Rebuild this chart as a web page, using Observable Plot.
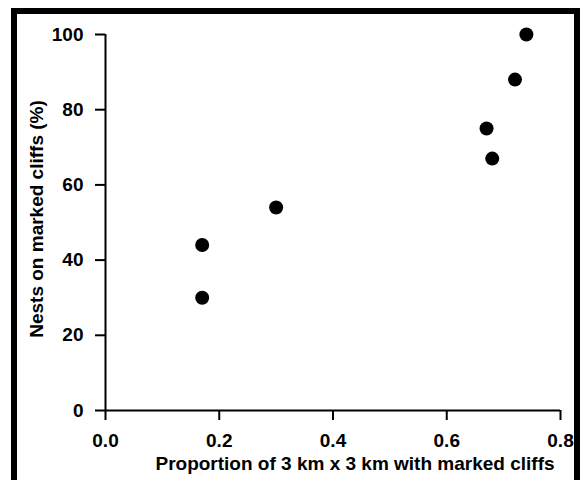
<!DOCTYPE html>
<html><head><meta charset="utf-8">
<script src="https://cdn.jsdelivr.net/npm/d3@7"></script>
<script src="https://cdn.jsdelivr.net/npm/@observablehq/plot@0.6"></script>
<style>
body{margin:0;background:#fff;}
#wrap{position:relative;width:584px;height:480px;overflow:hidden;}
#wrap svg{position:absolute;left:0;top:0;}
#border{position:absolute;left:11px;top:8px;width:557px;height:500px;border:6px solid #000;}
</style></head><body>
<div id="wrap"></div>
<script>
const proportion = [0.17, 0.17, 0.30, 0.67, 0.68, 0.72, 0.74];
const nests = [44, 30, 54, 75, 67, 88, 100];
const xTicks = [0, 0.2, 0.4, 0.6, 0.8];
const yTicks = [0, 20, 40, 60, 80, 100];
const xLabel = "Proportion of 3 km x 3 km with marked cliffs";
const yLabel = "Nests on marked cliffs (%)";
const data = proportion.map((p, i) => ({p, n: nests[i]}));
const chart = Plot.plot({
  width: 584, height: 480,
  marginLeft: 105, marginRight: 24, marginTop: 34, marginBottom: 70,
  style: {fontFamily: "'Liberation Sans', Arial, sans-serif", fontSize: "19px", fontWeight: "bold", background: "transparent", color: "#000"},
  x: {domain: [0, 0.8]},
  y: {domain: [0, 100]},
  marks: [
    Plot.axisX({ticks: xTicks, tickFormat: d => d.toFixed(1), tickSize: 10, tickPadding: 13, strokeWidth: 2, label: null}),
    Plot.axisY({ticks: yTicks, tickSize: 10, tickPadding: 12, strokeWidth: 2, label: null}),
    Plot.ruleX([0], {strokeWidth: 2}),
    Plot.ruleY([0], {strokeWidth: 2}),
    Plot.dot(data, {x: "p", y: "n", r: 7, fill: "#000"}),
    Plot.text([xLabel], {frameAnchor: "bottom", textAnchor: "middle", dx: 22, dy: 59, lineAnchor: "bottom", text: d => d}),
    Plot.text([yLabel], {frameAnchor: "left", textAnchor: "middle", rotate: -90, dx: -63, dy: -3.5, lineAnchor: "bottom", text: d => d})
  ]
});
const wrap = document.getElementById("wrap");
wrap.appendChild(chart);
const b = document.createElement("div");
b.id = "border";
wrap.appendChild(b);
</script>
</body></html>
